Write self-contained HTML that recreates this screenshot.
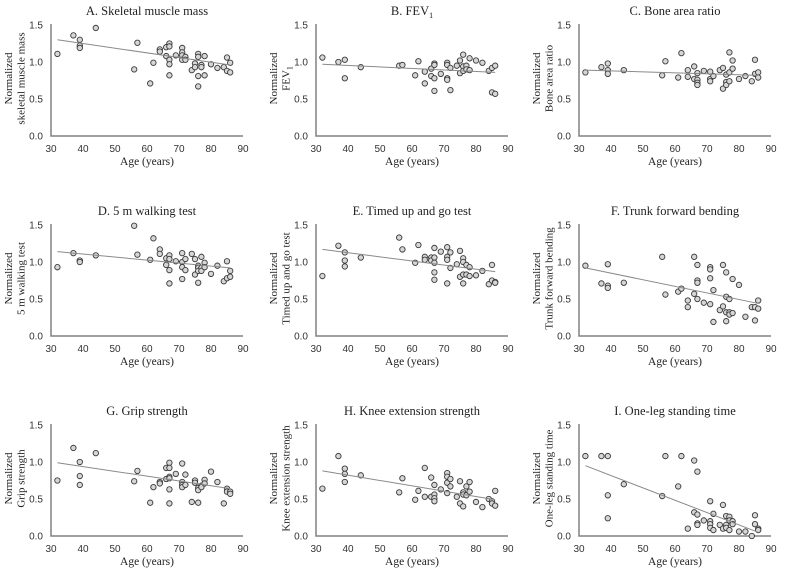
<!DOCTYPE html>
<html><head><meta charset="utf-8"><style>
html,body{margin:0;padding:0;background:#fff;}
svg{display:block;}
.tick{font-family:"Liberation Sans",sans-serif;font-size:10px;fill:#333;}
.ser{font-family:"Liberation Serif",serif;fill:#222;}
</style></head><body>
<svg id="chart" width="785" height="569" viewBox="0 0 785 569"></svg>
<script>
const panelTitles = ["A. Skeletal muscle mass","B. FEV1","C. Bone area ratio","D. 5 m walking test","E. Timed up and go test","F. Trunk forward bending","G. Grip strength","H. Knee extension strength","I. One-leg standing time"];
const yTitles2 = ["skeletal muscle mass","FEV1","Bone area ratio","5 m walking test","Timed up and go test","Trunk forward bending","Grip strength","Knee extension strength","One-leg standing time"];
const xTicks = [30,40,50,60,70,80,90];
const yTicks = [0.0,0.5,1.0,1.5];
const trendStart = [1.30,0.97,0.89,1.14,1.17,0.92,0.99,0.88,0.95];
const trendEnd = [0.96,0.86,0.82,0.92,0.87,0.44,0.64,0.49,0.05];
const dataA = [[32,1.11],[37,1.36],[39,1.30],[39,1.22],[39,1.19],[44,1.46],[56,0.90],[57,1.26],[61,0.71],[62,0.99],[64,1.17],[64,1.14],[66,1.20],[66,1.08],[67,1.25],[67,1.21],[67,1.03],[67,0.97],[67,0.82],[69,1.09],[71,1.19],[71,1.13],[71,1.09],[71,1.03],[72,1.07],[72,1.03],[74,0.89],[75,0.98],[75,0.93],[76,1.11],[76,1.07],[76,0.81],[76,0.67],[77,0.96],[77,0.93],[78,1.08],[78,0.82],[80,0.97],[82,0.92],[84,0.93],[85,1.06],[85,0.88],[86,0.99],[86,0.86]];
const dataB = [[32,1.06],[37,1.00],[39,1.03],[39,0.78],[44,0.93],[56,0.95],[57,0.96],[61,0.82],[62,1.01],[64,0.87],[64,0.71],[66,0.91],[66,0.81],[67,0.98],[67,0.96],[67,0.78],[67,0.61],[69,0.84],[71,0.99],[71,0.96],[71,0.78],[71,0.76],[72,0.92],[72,0.62],[74,0.95],[75,1.02],[75,0.85],[76,1.10],[76,0.94],[76,0.88],[77,0.95],[77,0.90],[78,1.05],[78,0.89],[80,1.02],[82,0.99],[84,0.88],[85,0.92],[85,0.59],[86,0.95],[86,0.57]];
const dataC = [[32,0.86],[37,0.93],[39,0.98],[39,0.89],[39,0.84],[44,0.89],[56,0.82],[57,1.01],[61,0.79],[62,1.12],[64,0.89],[64,0.80],[66,0.94],[66,0.77],[67,0.85],[67,0.76],[67,0.72],[67,0.69],[69,0.88],[71,0.87],[71,0.77],[71,0.74],[72,0.81],[74,0.89],[75,0.92],[75,0.64],[76,0.83],[76,0.73],[76,0.69],[77,1.13],[77,0.86],[77,0.74],[78,1.02],[78,0.91],[80,0.77],[82,0.81],[84,0.74],[85,1.03],[85,0.84],[86,0.86],[86,0.79]];
const dataD = [[32,0.93],[37,1.12],[39,1.02],[39,1.00],[44,1.09],[56,1.49],[57,1.10],[61,1.03],[62,1.32],[64,1.17],[64,1.11],[66,1.05],[66,0.96],[67,1.09],[67,1.04],[67,0.89],[67,0.71],[69,1.01],[71,1.12],[71,1.00],[71,0.93],[71,0.77],[72,1.04],[72,0.89],[74,1.11],[75,1.04],[75,0.83],[76,0.95],[76,0.92],[76,0.88],[76,0.72],[77,1.07],[77,0.92],[77,0.88],[78,0.99],[78,0.93],[80,0.84],[82,0.95],[84,0.74],[85,1.01],[85,0.78],[86,0.88],[86,0.80]];
const dataE = [[32,0.81],[37,1.22],[39,1.13],[39,1.02],[39,0.94],[44,1.06],[56,1.33],[57,1.17],[61,0.99],[62,1.23],[64,1.07],[64,1.03],[66,1.06],[66,1.02],[67,1.19],[67,1.06],[67,0.99],[67,0.86],[67,0.76],[69,1.14],[71,1.20],[71,1.07],[71,1.03],[71,0.71],[72,1.13],[72,0.92],[74,0.97],[75,1.15],[75,0.80],[76,1.05],[76,1.00],[76,0.83],[76,0.71],[77,0.96],[77,0.83],[78,0.93],[78,0.81],[80,0.82],[82,0.88],[84,0.70],[85,0.96],[85,0.75],[86,0.73],[86,0.72]];
const dataF = [[32,0.95],[37,0.71],[39,0.97],[39,0.68],[39,0.65],[44,0.72],[56,1.07],[57,0.56],[61,0.60],[62,0.64],[64,0.48],[64,0.39],[66,1.07],[66,0.57],[67,0.96],[67,0.75],[67,0.72],[67,0.50],[69,0.45],[71,0.93],[71,0.90],[71,0.78],[71,0.43],[72,0.62],[72,0.19],[74,0.35],[75,0.96],[75,0.40],[76,0.86],[76,0.53],[76,0.32],[76,0.20],[77,0.50],[77,0.32],[77,0.29],[78,0.77],[78,0.31],[80,0.69],[82,0.26],[84,0.39],[85,0.39],[85,0.21],[86,0.48],[86,0.37]];
const dataG = [[32,0.75],[37,1.19],[39,1.00],[39,0.81],[39,0.69],[44,1.12],[56,0.74],[57,0.88],[61,0.45],[62,0.66],[64,0.73],[64,0.71],[66,0.92],[66,0.77],[67,0.99],[67,0.92],[67,0.80],[67,0.78],[67,0.63],[67,0.44],[69,0.84],[71,0.98],[71,0.73],[71,0.69],[71,0.66],[72,0.83],[72,0.69],[74,0.46],[75,0.75],[75,0.72],[76,0.65],[76,0.62],[76,0.45],[77,0.68],[77,0.66],[78,0.76],[78,0.71],[80,0.87],[82,0.73],[84,0.44],[85,0.64],[85,0.60],[86,0.60],[86,0.57]];
const dataH = [[32,0.64],[37,1.08],[39,0.91],[39,0.84],[39,0.73],[44,0.82],[56,0.59],[57,0.78],[61,0.49],[62,0.61],[64,0.92],[64,0.53],[66,0.79],[66,0.53],[67,0.69],[67,0.56],[67,0.51],[67,0.47],[69,0.63],[71,0.85],[71,0.80],[71,0.72],[71,0.58],[72,0.77],[72,0.67],[74,0.53],[75,0.74],[75,0.44],[76,0.59],[76,0.56],[76,0.40],[77,0.67],[77,0.55],[78,0.73],[78,0.60],[80,0.46],[82,0.39],[84,0.50],[85,0.47],[85,0.44],[86,0.61],[86,0.41]];
const dataI = [[32,1.08],[37,1.08],[39,1.08],[39,0.55],[39,0.24],[44,0.70],[56,0.54],[57,1.08],[61,0.67],[62,1.08],[64,0.10],[66,1.02],[66,0.32],[67,0.87],[67,0.29],[67,0.17],[67,0.15],[69,0.21],[71,0.47],[71,0.20],[71,0.16],[71,0.11],[72,0.30],[72,0.08],[74,0.15],[75,0.42],[75,0.10],[76,0.27],[76,0.15],[76,0.11],[77,0.26],[77,0.21],[77,0.08],[78,0.20],[78,0.16],[80,0.06],[82,0.06],[84,0.00],[85,0.28],[85,0.16],[86,0.10],[86,0.08]];
const allData = [dataA,dataB,dataC,dataD,dataE,dataF,dataG,dataH,dataI];
const trendX = [32,86];

const NS = "http://www.w3.org/2000/svg";
const svg = document.getElementById('chart');
const colLeft = [51,316,579], colW = 192;
const rowTop = [25,225,425], rowH = 111;
function mk(tag, attrs, parent){const e=document.createElementNS(NS,tag);for(const k in attrs)e.setAttribute(k,attrs[k]);parent.appendChild(e);return e;}
function addText(parent,str,sub){
  if(str.indexOf('FEV1')>=0){
    const parts=str.split('FEV1');
    parent.appendChild(document.createTextNode(parts[0]+'FEV'));
    const t=document.createElementNS(NS,'tspan');t.setAttribute('font-size',sub);t.setAttribute('dy','3');t.textContent='1';parent.appendChild(t);
  } else parent.textContent=str;
}
for(let p=0;p<9;p++){
  const L=colLeft[p%3], T=rowTop[Math.floor(p/3)], B=T+rowH;
  const xs=v=>L+(v-30)/60*colW;
  const ys=v=>B-v/1.5*rowH;
  const g=mk('g',{},svg);
  
  
  const title=mk('text',{x:L+colW/2,y:T-10,'text-anchor':'middle','font-size':'12.5',class:'ser'},g);
  
  
  addText(title,panelTitles[p],'8');
  yTicks.forEach(v=>{const t=mk('text',{x:L-8,y:ys(v)+3.5,'text-anchor':'end',class:'tick'},g);t.textContent=v.toFixed(1);
    
    });
  xTicks.forEach(v=>{const t=mk('text',{x:xs(v),y:B+16,'text-anchor':'middle',class:'tick'},g);t.textContent=v;
    
    });
  const xt=mk('text',{x:L+colW/2,y:B+29,'text-anchor':'middle','font-size':'11.5',class:'ser'},g);xt.textContent='Age (years)';
  
  
  const yc=(T+B)/2-2;
  const yt=mk('text',{transform:`translate(${L-39},${yc}) rotate(-90)`,'text-anchor':'middle','font-size':'11',class:'ser'},g);
  
  
  const t1=mk('tspan',{x:0,y:0},yt);t1.textContent='Normalized';
  const t2=mk('tspan',{x:0,y:12.5},yt);addText(t2,yTitles2[p],'8');
  const ax=mk('path',{d:`M${L},${T-1}V${B}H${L+colW}`,fill:'none',stroke:'#808080','stroke-width':'1.5'},g);
  
  
  allData[p].forEach(d=>{const c=mk('circle',{cx:xs(d[0]),cy:ys(d[1]),r:2.7,fill:'#d6d6d6',stroke:'#3a3a3a','stroke-width':'0.9'},g);
    
    });
  const ln=mk('line',{x1:xs(trendX[0]),y1:ys(trendStart[p]),x2:xs(trendX[1]),y2:ys(trendEnd[p]),stroke:'#8a8a8a','stroke-width':'1'},g);
  
  
}
</script>
</body></html>
